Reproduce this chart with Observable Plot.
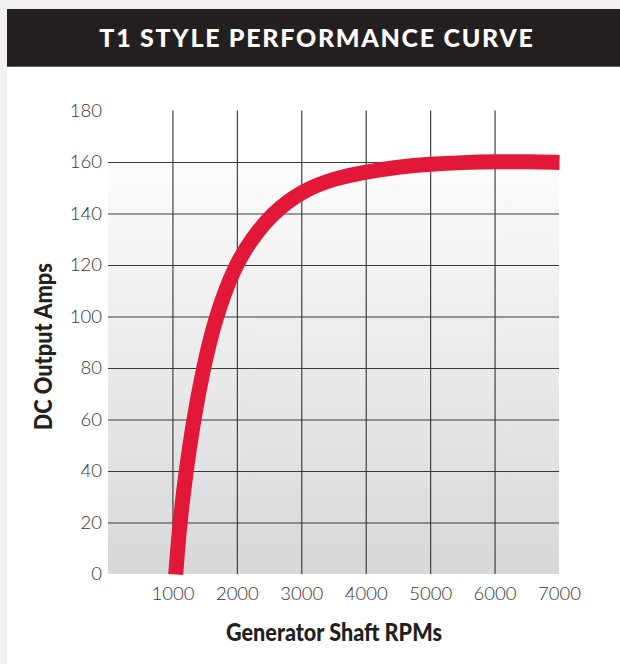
<!DOCTYPE html>
<html>
<head>
<meta charset="utf-8">
<script src="https://cdn.jsdelivr.net/npm/d3@7"></script>
<script src="https://cdn.jsdelivr.net/npm/@observablehq/plot@0.6"></script>
<style>
  html, body { margin: 0; padding: 0; }
  body { width: 620px; height: 664px; background: #f2f2f2; overflow: hidden; position: relative; }
  #panel { position: absolute; left: 7px; top: 9px; width: 613px; height: 655px; background: #ffffff; }
  #bar { position: absolute; left: 0; top: 0; width: 613px; height: 57px; background: #231f20; border-bottom: 1px solid #5e5e5e; }
  #title { position: absolute; left: 7px; right: 0; top: 0; height: 57px; line-height: 57px; text-align: center;
           color: #ffffff; font-family: Lato, "Open Sans", sans-serif; font-weight: 900; font-size: 25px; letter-spacing: 1.7px; }
  #chart { position: absolute; left: 0; top: 58px; }
</style>
</head>
<body>
<div id="panel">
  <div id="bar"><div id="title">T1 STYLE PERFORMANCE CURVE</div></div>
  <div id="chart"></div>
</div>
<script>
// Data
const rpm  = [1043, 1106, 1203, 1320, 1470, 1660, 1960, 2230, 2530, 3000, 3500, 4000, 4500, 5000, 5500, 6000, 6500, 7000];
const amps = [0, 20, 40, 60, 80, 100, 120, 130.5, 140, 149, 153.8, 156.4, 158.3, 159.4, 160, 160.3, 160.3, 160];

const xTicks = [1000, 2000, 3000, 4000, 5000, 6000, 7000];
const yTicks = [0, 20, 40, 60, 80, 100, 120, 140, 160, 180];
const xGrid = [1000, 2000, 3000, 4000, 5000, 6000];
const yGrid = [20, 40, 60, 80, 100, 120, 140, 160];
const xDomain = [0, 7000];
const yDomain = [0, 180];
const bandTop = 160;

const xTitle = "Generator Shaft RPMs";
const yTitle = "DC Output Amps";

const curve = rpm.map((r, i) => ({rpm: r, amps: amps[i]}));

const titleFont = 'Lato, "DejaVu Sans", sans-serif';

const svg = Plot.plot({
  width: 613,
  height: 597,
  marginLeft: 101,
  marginRight: 61,
  marginTop: 43.5,
  marginBottom: 90,
  style: {background: "transparent", overflow: "visible", fontFamily: "Lato, sans-serif"},
  x: {domain: xDomain},
  y: {domain: yDomain},
  marks: [
    Plot.rect([0], {x1: xDomain[0], x2: xDomain[1], y1: yDomain[0], y2: bandTop, fill: "url(#bgGrad)"}),
    Plot.ruleY(yGrid, {x1: xDomain[0], x2: xDomain[1], stroke: "#3a3a3a", strokeWidth: 1.15}),
    Plot.ruleX(xGrid, {y1: yDomain[0], y2: yDomain[1], stroke: "#3a3a3a", strokeWidth: 1.15}),
    Plot.line(curve, {x: "rpm", y: "amps", stroke: "#e31838", strokeWidth: 15, strokeLinecap: "butt", curve: "basis"}),
    Plot.axisY({ticks: yTicks, tickSize: 0, tickPadding: 6.5, label: null, fontSize: 18.5, fontWeight: 300, fill: "#333", fontFamily: "Lato, sans-serif"}),
    Plot.axisX({ticks: xTicks, tickFormat: d3.format("d"), tickSize: 0, tickPadding: 12, label: null, fontSize: 18.5, fontWeight: 300, fill: "#333", fontFamily: "Lato, sans-serif"}),
    Plot.text([xTitle], {frameAnchor: "bottom", textAnchor: "middle", lineAnchor: "middle", dy: 58.3, fontSize: 25, fontWeight: 900, fontFamily: titleFont, fill: "#231f20"}),
    Plot.text([yTitle], {frameAnchor: "left", textAnchor: "middle", lineAnchor: "middle", rotate: -90, dx: -65, dy: 4, fontSize: 25, fontWeight: 900, fontFamily: titleFont, fill: "#231f20"})
  ]
});

const ns = "http://www.w3.org/2000/svg";
const defs = document.createElementNS(ns, "defs");
const grad = document.createElementNS(ns, "linearGradient");
grad.setAttribute("id", "bgGrad");
grad.setAttribute("x1", "0"); grad.setAttribute("y1", "0");
grad.setAttribute("x2", "0"); grad.setAttribute("y2", "1");
[["0", "#fcfcfc"], ["1", "#d7d8da"]].forEach(([o, c]) => {
  const s = document.createElementNS(ns, "stop");
  s.setAttribute("offset", o);
  s.setAttribute("stop-color", c);
  grad.appendChild(s);
});
defs.appendChild(grad);
svg.insertBefore(defs, svg.firstChild);

// condense the axis titles to mimic a condensed bold face
svg.querySelectorAll("text").forEach(t => {
  if (t.textContent === xTitle) { t.setAttribute("textLength", 216); t.setAttribute("lengthAdjust", "spacingAndGlyphs"); }
  if (t.textContent === yTitle) { t.setAttribute("textLength", 167); t.setAttribute("lengthAdjust", "spacingAndGlyphs"); }
});

document.getElementById("chart").appendChild(svg);
</script>
</body>
</html>
